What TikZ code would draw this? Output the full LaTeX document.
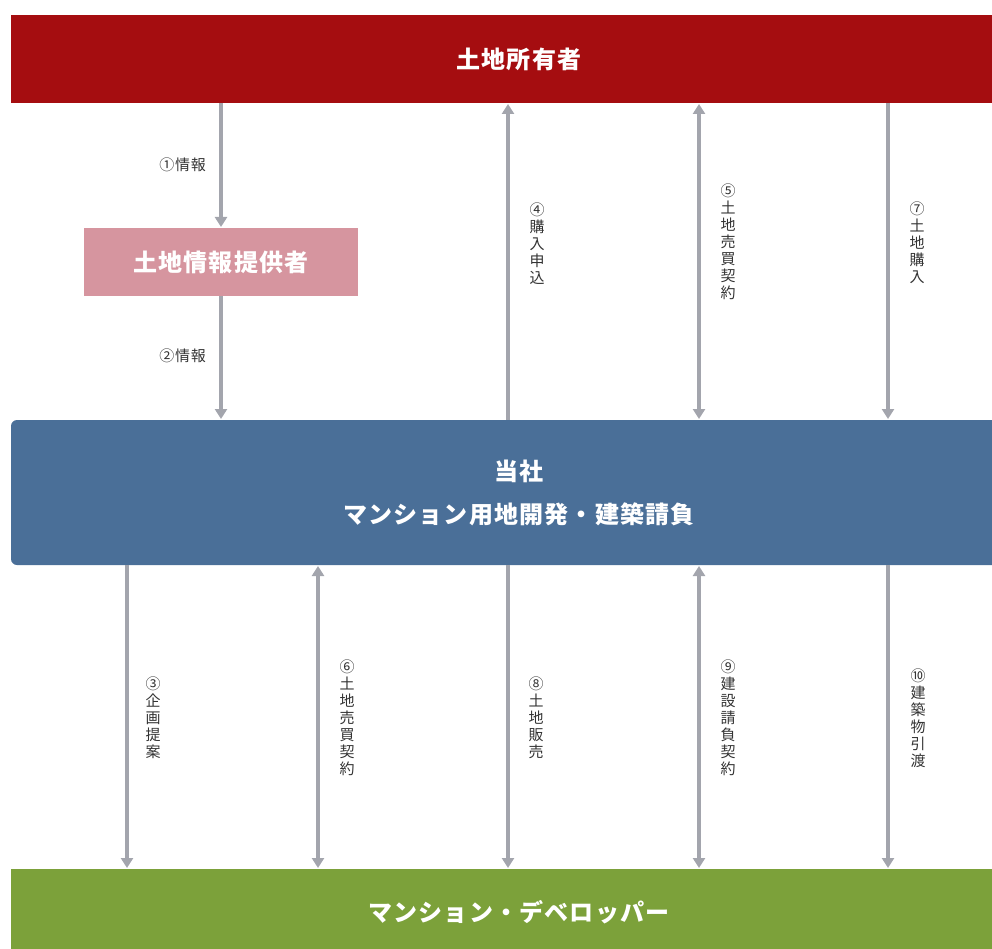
\documentclass[tikz,border=0pt]{standalone}
\usepackage{fontspec}
\setmainfont{Noto Sans CJK JP}
\usetikzlibrary{arrows.meta}
\definecolor{ownerred}{HTML}{A50D10}
\definecolor{provpink}{HTML}{D6959F}
\definecolor{compblue}{HTML}{4A6F98}
\definecolor{devgreen}{HTML}{7CA13A}
\definecolor{arrowgray}{HTML}{A3A5AD}
\definecolor{labelgray}{HTML}{333333}
\tikzset{
  bar/.style={inner sep=0pt, outer sep=0pt, font=\fontsize{24}{28}\selectfont\bfseries\addfontfeature{LetterSpace=5}, text=white, align=center},
  flow/.style={draw=arrowgray, line width=3.5pt, -{Triangle[width=12pt,length=10pt]}, shorten >=1pt},
  flowboth/.style={draw=arrowgray, line width=3.5pt, {Triangle[width=12pt,length=10pt]}-{Triangle[width=12pt,length=10pt]}, shorten >=1pt, shorten <=1pt},
  flowup/.style={draw=arrowgray, line width=3.5pt, {Triangle[width=12pt,length=10pt]}-, shorten <=1pt},
  vlabel/.style={font=\fontsize{15}{17}\selectfont, text=labelgray, align=center, inner sep=0pt},
  hlabel/.style={font=\fontsize{15}{17}\selectfont\addfontfeature{LetterSpace=5}, text=labelgray, inner sep=0pt, anchor=east}
}
\begin{document}
\begin{tikzpicture}[x=1pt,y=-1pt]
\useasboundingbox (0,0) rectangle (992,949);
\clip (0,0) rectangle (992,949);
% boxes
\fill[ownerred] (11,15) rectangle (1030,103);
\node[bar] (owner) at (519,59) {土地所有者};
\coordinate (ownerS) at (519,103);
\fill[provpink] (84,228) rectangle (358,296);
\node[bar] (provtext) at (221,262) {土地情報提供者};
\coordinate (provN) at (221,228);
\coordinate (provS) at (221,296);
\fill[compblue, rounded corners=6pt] (11,420) rectangle (1030,565);
\node[bar, font=\fontsize{24}{43}\selectfont\bfseries\addfontfeature{LetterSpace=5}] (company) at (519,493) {当社\\マンション用地開発・建築請負};
\coordinate (compN) at (519,420);
\coordinate (compS) at (519,565);
\fill[devgreen] (11,869) rectangle (1030,960);
\node[bar] (dev) at (519,912) {マンション・デベロッパー};
\coordinate (devN) at (519,869);
% columns
\coordinate (c1) at (221,0);
\coordinate (c2) at (508,0);
\coordinate (c3) at (699,0);
\coordinate (c4) at (888,0);
\coordinate (d1) at (127,0);
\coordinate (d2) at (318,0);
% upper arrows
\draw[flow] (ownerS -| c1) -- (provN);
\draw[flow] (provS) -- (compN -| c1);
\draw[flowup] (ownerS -| c2) -- (compN -| c2);
\draw[flowboth] (ownerS -| c3) -- (compN -| c3);
\draw[flow] (ownerS -| c4) -- (compN -| c4);
% lower arrows
\draw[flow] (compS -| d1) -- (devN -| d1);
\draw[flowboth] (compS -| d2) -- (devN -| d2);
\draw[flow] (compS -| c2) -- (devN -| c2);
\draw[flowboth] (compS -| c3) -- (devN -| c3);
\draw[flow] (compS -| c4) -- (devN -| c4);
% labels
\node[hlabel] (l1) at (206,165) {①情報};
\node[hlabel] (l2) at (206,356) {②情報};
\node[vlabel] (l4) at (537,244) {④\\購\\入\\申\\込};
\node[vlabel] (l5) at (728,242) {⑤\\土\\地\\売\\買\\契\\約};
\node[vlabel] (l7) at (917,243) {⑦\\土\\地\\購\\入};
\node[vlabel] (l3) at (153,718) {③\\企\\画\\提\\案};
\node[vlabel] (l6) at (347,718) {⑥\\土\\地\\売\\買\\契\\約};
\node[vlabel] (l8) at (536,718) {⑧\\土\\地\\販\\売};
\node[vlabel] (l9) at (728,718) {⑨\\建\\設\\請\\負\\契\\約};
\node[vlabel] (l10) at (918,718) {⑩\\建\\築\\物\\引\\渡};
\end{tikzpicture}
\end{document}
